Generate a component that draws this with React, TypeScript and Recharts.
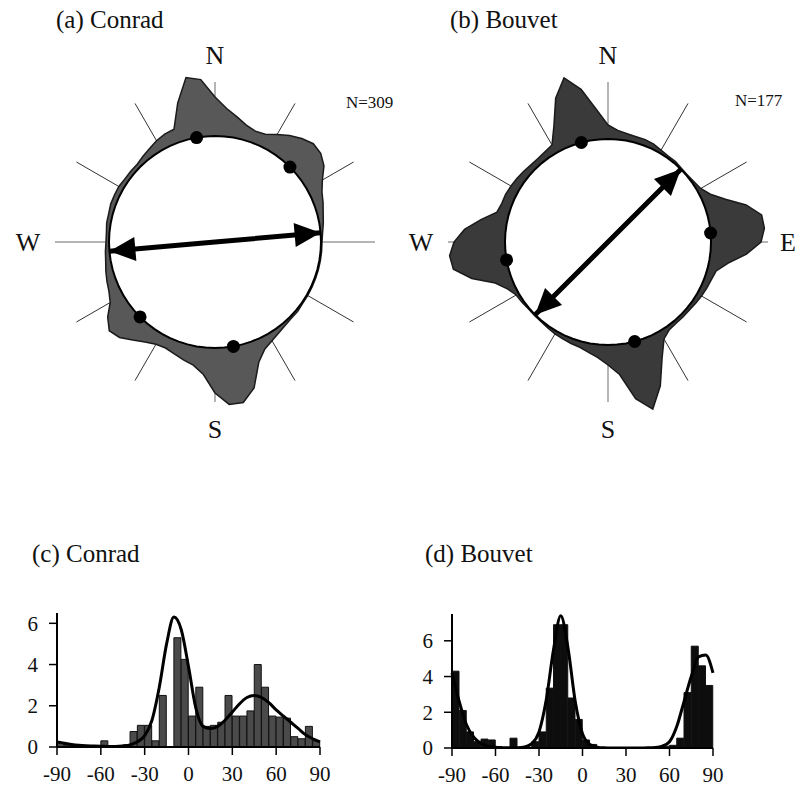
import React from 'react';
import {
  RadarChart,
  Radar,
  PolarGrid,
  PolarAngleAxis,
  PolarRadiusAxis,
  ComposedChart,
  Bar,
  Line,
  XAxis,
  YAxis
} from 'recharts';

const SERIF = '"Liberation Serif", "Times New Roman", serif';

// compass directions (clockwise from N) used as rose categories
const compassDeg = [
  0, 5, 10, 15, 20, 25, 30, 35, 40, 45, 50, 55, 60, 65, 70, 75, 80, 85,
  90, 95, 100, 105, 110, 115, 120, 125, 130, 135, 140, 145, 150, 155, 160, 165, 170, 175,
  180, 185, 190, 195, 200, 205, 210, 215, 220, 225, 230, 235, 240, 245, 250, 255, 260, 265,
  270, 275, 280, 285, 290, 295, 300, 305, 310, 315, 320, 325, 330, 335, 340, 345, 350, 355
];

// smoothed orientation density sitting on top of the reference circle
const conradRose = [
  39, 28, 21, 15, 12, 13, 18, 24, 29, 33, 32, 27, 18, 12, 9, 6, 4, 2,
  1, 1, 1, 1, 1, 1, 1, 1, 2, 2, 3, 5, 8, 12, 22, 45, 57, 57,
  45, 27, 19, 16, 13, 11, 12, 16, 22, 29, 32, 25, 15, 11, 9, 7, 5, 4,
  3, 3, 4, 4, 5, 5, 5, 4, 4, 4, 6, 8, 11, 13, 14, 38, 61, 57
];
const bouvetRose = [
  14, 9, 7, 6, 6, 5, 3, 2, 2, 1, 1, 2, 4, 10, 22, 40, 53, 54,
  50, 36, 19, 9, 7, 6, 5, 4, 3, 3, 3, 4, 9, 25, 50, 70, 56, 30,
  20, 13, 9, 6, 5, 4, 3, 2, 1, 1, 1, 2, 3, 8, 17, 38, 54, 56,
  51, 41, 26, 12, 10, 10, 9, 8, 7, 6, 6, 7, 9, 25, 50, 67, 52, 30
];

const conradModes = [350, 45, 170, 225];
const bouvetModes = [345, 85, 165, 260];
const conradMeanAxis = [85, 265];
const bouvetMeanAxis = [45, 225];

const conradLabels: Record<number, string> = { 0: 'N', 180: 'S', 270: 'W' };
const bouvetLabels: Record<number, string> = { 0: 'N', 90: 'E', 180: 'S', 270: 'W' };

// histograms: 5 degree bins starting at
const binStart = [
  -90, -85, -80, -75, -70, -65, -60, -55, -50, -45, -40, -35, -30, -25, -20, -15, -10, -5,
  0, 5, 10, 15, 20, 25, 30, 35, 40, 45, 50, 55, 60, 65, 70, 75, 80, 85
];
const conradCounts = [
  0.2, 0.1, 0.1, 0.05, 0.05, 0.05, 0.3, 0.05, 0, 0.1, 0.75, 1.05, 1.05, 0.3, 2.5, 0, 5.3, 4.25,
  1.5, 2.9, 1.0, 1.05, 1.2, 2.5, 1.5, 1.5, 1.75, 4.0, 2.9, 1.5, 1.45, 1.4, 0.5, 0.4, 1.0, 0.3
];
const bouvetCounts = [
  4.3, 2.1, 0.9, 0.35, 0.5, 0.45, 0, 0, 0.55, 0, 0, 0.35, 0.9, 3.35, 6.9, 6.9, 2.8, 1.6,
  0.45, 0.2, 0, 0, 0, 0, 0, 0, 0, 0, 0.05, 0.1, 0.15, 0.55, 3.1, 5.7, 4.6, 3.5
];

const curveDeg = [
  -90, -85, -80, -75, -70, -65, -60, -55, -50, -45, -40, -35, -30, -25, -20, -15, -10, -5,
  0, 5, 10, 15, 20, 25, 30, 35, 40, 45, 50, 55, 60, 65, 70, 75, 80, 85, 90
];
const conradCurve = [
  0.25, 0.18, 0.12, 0.08, 0.06, 0.05, 0.04, 0.03, 0.03, 0.05, 0.1, 0.25, 0.55, 1.3, 2.9, 5.0, 6.3, 5.7,
  3.9, 1.9, 1.0, 0.9, 1.0, 1.3, 1.7, 2.1, 2.4, 2.5, 2.4, 2.15, 1.8, 1.5, 1.2, 0.9, 0.6, 0.4, 0.25
];
const bouvetCurve = [
  4.2, 2.6, 1.3, 0.6, 0.25, 0.1, 0.04, 0.02, 0.01, 0.02, 0.06, 0.25, 0.9, 2.7, 5.5, 7.4, 5.6, 2.6,
  0.8, 0.2, 0.05, 0.01, 0, 0, 0, 0, 0, 0.01, 0.03, 0.1, 0.35, 1.2, 2.6, 4.0, 5.1, 5.2, 4.2
];

const degTicks = [-90, -60, -30, 0, 30, 60, 90];

function roseRows(excess: number[], modes: number[], meanAxis: number[], ring: number) {
  return compassDeg.map((deg, i) => ({
    deg,
    density: ring + excess[i],
    ring,
    arrow: meanAxis.includes(deg) ? ring : 0,
    mode: modes.includes(deg),
    tip: meanAxis.includes(deg)
  }));
}

function rowOf(props: any) {
  const p = props.payload ?? {};
  return p.payload ?? p;
}

const compassTick = (labels: Record<number, string>) => (props: any) => {
  const { x, y, payload } = props;
  const label = labels[payload.value];
  if (!label) return <g />;
  // E sits at the page edge, nudge it in a little
  const dx = label === 'E' ? -7 : 0;
  return (
    <text x={x} y={y} dx={dx} dy="0.34em" textAnchor="middle" fontFamily={SERIF} fontSize={26} fill="#111">
      {label}
    </text>
  );
};

const modeDot = (props: any) => {
  const row = rowOf(props);
  if (!row.mode) return <g key={props.key} />;
  return <circle key={props.key} cx={props.cx} cy={props.cy} r={6.5} fill="#000" />;
};

// filled triangle at the rim, pointing outward along the row's compass direction
const arrowHead = (props: any) => {
  const row = rowOf(props);
  if (!row.tip || typeof props.cx !== 'number') return <g key={props.key} />;
  const a = (row.deg * Math.PI) / 180;
  const ux = Math.sin(a);
  const uy = -Math.cos(a);
  const L = 26;
  const H = 12;
  const bx = props.cx - ux * L;
  const by = props.cy - uy * L;
  const pts = `${props.cx},${props.cy} ${bx - uy * H},${by + ux * H} ${bx + uy * H},${by - ux * H}`;
  return <polygon key={props.key} points={pts} fill="#000" stroke="none" />;
};

function Rose({ rows, labels, fill, cx, cy }: any) {
  return (
    <RadarChart
      width={420}
      height={440}
      data={rows}
      cx={cx}
      cy={cy}
      innerRadius={0}
      outerRadius={160}
      startAngle={90}
      endAngle={-270}
      margin={{ top: 0, right: 0, bottom: 0, left: 0 }}
    >
      <PolarGrid gridType="circle" polarRadius={[]} polarAngles={[90, 0, -90, 180]} stroke="#9c9c9c" strokeWidth={1.5} />
      <PolarGrid
        gridType="circle"
        polarRadius={[]}
        polarAngles={[60, 30, -30, -60, -120, -150, 150, 120]}
        stroke="#333"
        strokeWidth={1}
      />
      <PolarAngleAxis dataKey="deg" tickLine={false} axisLine={false} tickSize={27} tick={compassTick(labels)} />
      <PolarRadiusAxis domain={[0, 160]} tick={false} axisLine={false} allowDataOverflow />
      <Radar dataKey="density" fill={fill} fillOpacity={1} stroke="#1a1a1a" strokeWidth={1.5} isAnimationActive={false} />
      <Radar
        dataKey="ring"
        fill="#fff"
        fillOpacity={1}
        stroke="#000"
        strokeWidth={2}
        dot={modeDot}
        isAnimationActive={false}
      />
      <Radar
        dataKey="arrow"
        fill="none"
        stroke="#000"
        strokeWidth={5}
        strokeLinejoin="bevel"
        dot={arrowHead}
        isAnimationActive={false}
      />
    </RadarChart>
  );
}

function Histogram({ counts, curve, yMax, yWidth, width, barFill }: any) {
  const bins = binStart.map((start, i) => ({ start, count: counts[i] }));
  const line = curveDeg.map((deg, i) => ({ deg, density: curve[i] }));
  return (
    <ComposedChart
      width={width}
      height={187}
      data={bins}
      margin={{ top: 13, right: 20, bottom: 0, left: 0 }}
      barCategoryGap={0}
      barGap={0}
    >
      <XAxis xAxisId="bins" dataKey="start" type="category" hide height={0} />
      <XAxis
        xAxisId="deg"
        dataKey="deg"
        type="number"
        domain={[-90, 90]}
        ticks={degTicks}
        interval={0}
        height={40}
        tickSize={8}
        tickMargin={11}
        axisLine={{ stroke: '#000', strokeWidth: 2 }}
        tickLine={{ stroke: '#000', strokeWidth: 1.5 }}
        tick={{ fontFamily: SERIF, fontSize: 21, fill: '#111' }}
      />
      <YAxis
        domain={[0, yMax]}
        ticks={[0, 2, 4, 6]}
        allowDataOverflow
        width={yWidth}
        tickSize={8}
        tickMargin={11}
        axisLine={{ stroke: '#000', strokeWidth: 2 }}
        tickLine={{ stroke: '#000', strokeWidth: 1.5 }}
        tick={{ fontFamily: SERIF, fontSize: 21, fill: '#111' }}
      />
      <Bar xAxisId="bins" dataKey="count" fill={barFill} stroke="#111" strokeWidth={1} isAnimationActive={false} />
      <Line
        xAxisId="deg"
        data={line}
        dataKey="density"
        type="monotone"
        dot={false}
        stroke="#000"
        strokeWidth={3}
        isAnimationActive={false}
      />
    </ComposedChart>
  );
}

export default function App() {
  const conradRows = roseRows(conradRose, conradModes, conradMeanAxis, 106);
  const bouvetRows = roseRows(bouvetRose, bouvetModes, bouvetMeanAxis, 103);
  return (
    <div
      style={{
        position: 'absolute',
        left: 0,
        top: 0,
        width: 798,
        height: 787,
        overflow: 'hidden',
        background: '#fff',
        fontFamily: SERIF
      }}
    >
      <div style={{ position: 'absolute', left: 0, top: 22 }}>
        <Rose rows={conradRows} labels={conradLabels} fill="#585858" cx={215} cy={220} />
      </div>
      <div style={{ position: 'absolute', left: 388, top: 22 }}>
        <Rose rows={bouvetRows} labels={bouvetLabels} fill="#3a3a3a" cx={220} cy={220} />
      </div>
      <div style={{ position: 'absolute', left: 0, top: 600 }}>
        <Histogram counts={conradCounts} curve={conradCurve} yMax={6.5} yWidth={57} width={340} barFill="#4a4a4a" />
      </div>
      <div style={{ position: 'absolute', left: 400, top: 601 }}>
        <Histogram counts={bouvetCounts} curve={bouvetCurve} yMax={7.5} yWidth={52} width={333} barFill="#0d0d0d" />
      </div>
      <svg
        width={798}
        height={787}
        style={{ position: 'absolute', left: 0, top: 0, pointerEvents: 'none' }}
      >
        <g fontFamily={SERIF} fill="#111">
          <text x={56} y={28} fontSize={25}>(a) Conrad</text>
          <text x={450} y={28} fontSize={25}>(b) Bouvet</text>
          <text x={32} y={562} fontSize={25}>(c) Conrad</text>
          <text x={425} y={562} fontSize={25}>(d) Bouvet</text>
          <text x={346} y={108} fontSize={17}>N=309</text>
          <text x={735} y={106} fontSize={17}>N=177</text>
        </g>
      </svg>
    </div>
  );
}
